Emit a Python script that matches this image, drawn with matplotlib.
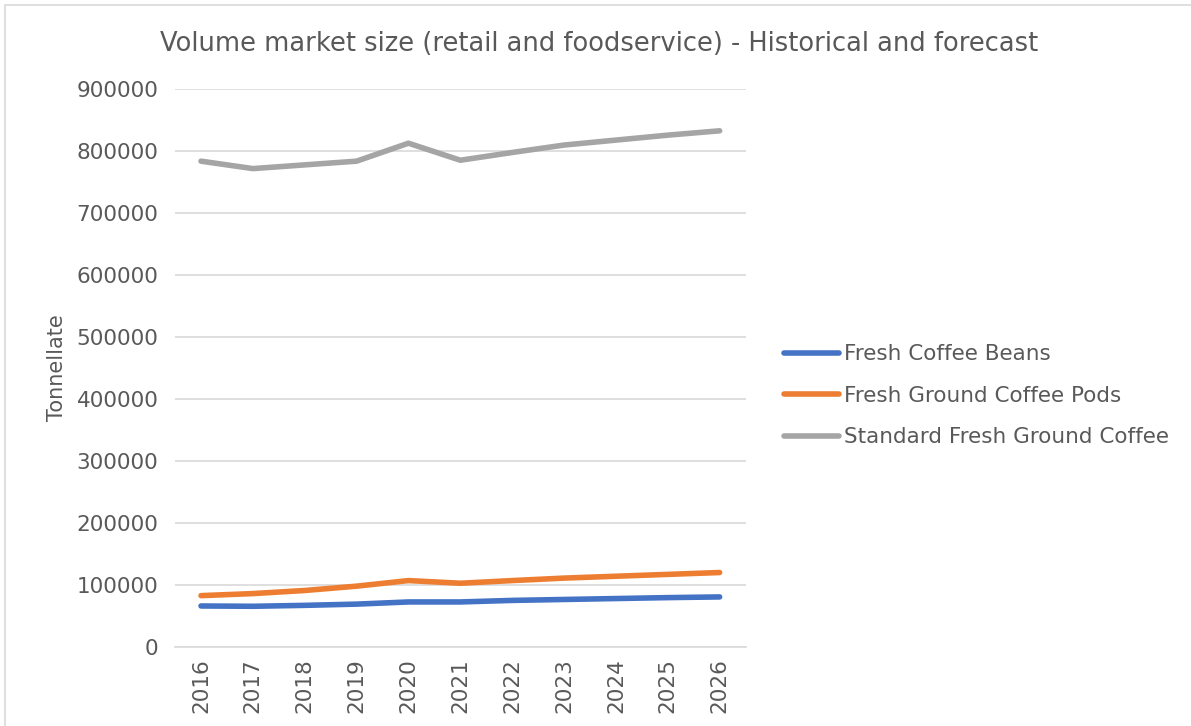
import matplotlib.pyplot as plt
from matplotlib.patches import Rectangle

years = ["2016", "2017", "2018", "2019", "2020", "2021", "2022", "2023", "2024", "2025", "2026"]
fresh_beans = [66000, 65500, 67000, 69000, 72500, 72500, 75000, 76500, 78000, 79500, 80600]
ground_pods = [82700, 86000, 91000, 98000, 107000, 102700, 107000, 111000, 114000, 117000, 120000]
standard_ground = [784000, 772000, 778000, 784000, 813000, 785500, 798000, 810000, 818000, 826000, 833000]
series_names = ["Fresh Coffee Beans", "Fresh Ground Coffee Pods", "Standard Fresh Ground Coffee"]

text_col = "#595959"
plt.rcParams["font.family"] = "DejaVu Sans"

fig = plt.figure(figsize=(11.91, 7.26), dpi=100)
ax = fig.add_axes([0.147, 0.109, 0.479, 0.768])

# chart border like the office chart frame
fig.patches.append(Rectangle((0.004, -0.01), 1.2, 1.003, transform=fig.transFigure,
                             fill=False, edgecolor="#d9d9d9", linewidth=1.2))

xlocs = list(range(len(years)))
ax.plot(xlocs, fresh_beans, color="#4472c4", lw=4, solid_capstyle="round", label=series_names[0])
ax.plot(xlocs, ground_pods, color="#ed7d31", lw=4, solid_capstyle="round", label=series_names[1])
ax.plot(xlocs, standard_ground, color="#a5a5a5", lw=4, solid_capstyle="round", label=series_names[2])

ax.set_xlim(-0.5, len(years) - 0.5)
ax.set_ylim(0, 900000)
ax.set_yticks(range(0, 900001, 100000))
ax.set_yticklabels([str(v) for v in range(0, 900001, 100000)])
ax.set_xticks(xlocs)
ax.set_xticklabels(years, rotation=90)
ax.tick_params(axis="both", length=0, labelsize=15.5, labelcolor=text_col)
ax.tick_params(axis="y", pad=12)
ax.tick_params(axis="x", pad=8)

ax.grid(axis="y", color="#d9d9d9", lw=1.2)
ax.set_axisbelow(True)
for s in ["top", "right", "left"]:
    ax.spines[s].set_visible(False)
ax.spines["bottom"].set_color("#d9d9d9")
ax.spines["bottom"].set_linewidth(1.2)

ax.set_ylabel("Tonnellate", fontsize=15, color=text_col, labelpad=7)
fig.text(0.503, 0.94, "Volume market size (retail and foodservice) - Historical and forecast",
         ha="center", va="center", fontsize=18.5, color=text_col)

ax.legend(loc="center left", bbox_to_anchor=(0.658, 0.455), bbox_transform=fig.transFigure,
          frameon=False, fontsize=15.5, labelcolor=text_col, handlelength=2.55,
          handletextpad=0.23, labelspacing=1.0, borderaxespad=0, borderpad=0)

plt.savefig("out.png", dpi=100)
